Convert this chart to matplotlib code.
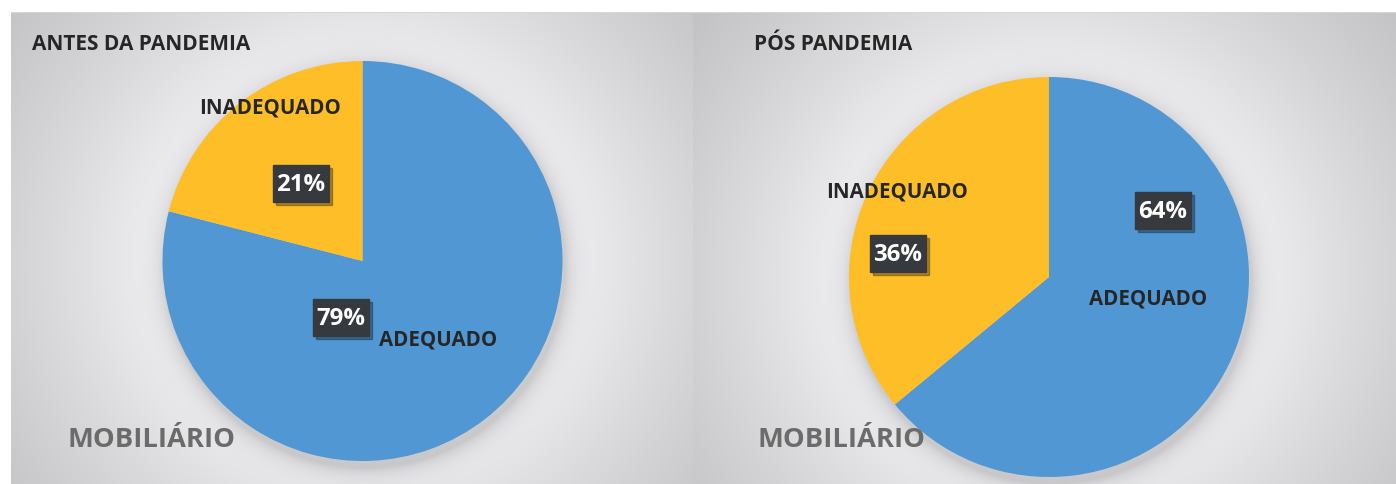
import numpy as np
import matplotlib
matplotlib.use("Agg")
import matplotlib.pyplot as plt
from matplotlib.patches import Rectangle

# data
categories = ['ADEQUADO', 'INADEQUADO']
antes = [79, 21]
pos = [64, 36]
titles = ['ANTES DA PANDEMIA', 'PÓS PANDEMIA']
colors = ['#5097d3', '#fdbe27']

W, H = 1396, 485
fig = plt.figure(figsize=(W / 100, H / 100), dpi=100)

# background: two panels with radial gradient and pie shadow
yy, xx = np.mgrid[0:H, 0:W].astype(float)
img = np.ones((H, W))
panels = [(11, 693, 362.5, 262), (693, W, 1049, 278)]
R = 200
for x0, x1, cx, cy in panels:
    m = (xx >= x0) & (xx < x1) & (yy >= 13)
    d = np.hypot(xx - cx, (yy - cy) * 1.05)
    t = np.clip((d - 200) / 290, 0, 1)
    val = 0.955 - 0.215 * t ** 0.8
    ds = np.hypot(xx - cx - 2, yy - cy - 6)
    sh = np.where(ds > R, np.exp(-(ds - R) / 10.0), 1.0)
    val = val - 0.15 * sh
    img[m] = val[m]
img[13, 11:] = 0.84

bg = fig.add_axes([0, 0, 1, 1])
bg.imshow(np.dstack([img, img, img * 1.01]).clip(0, 1), extent=(0, W, H, 0), aspect='auto')
bg.set_xlim(0, W)
bg.set_ylim(H, 0)
bg.axis('off')

for (x0, x1, cx, cy), vals in zip(panels, [antes, pos]):
    ax = fig.add_axes([(cx - R) / W, (H - cy - R) / H, 2 * R / W, 2 * R / H])
    ax.pie(vals, colors=colors, startangle=90, counterclock=False, radius=1,
           wedgeprops=dict(linewidth=0))
    ax.set_xlim(-1, 1)
    ax.set_ylim(-1, 1)
    ax.axis('off')

ov = fig.add_axes([0, 0, 1, 1])
ov.set_xlim(0, W)
ov.set_ylim(H, 0)
ov.axis('off')

font = 'Open Sans'
txt = '#262626'
ov.text(32, 44, titles[0], fontsize=15, fontweight='bold', color=txt, family=font, va='center')
ov.text(754, 44, titles[1], fontsize=15, fontweight='bold', color=txt, family=font, va='center')
for x in [68, 758]:
    ov.text(x, 440, 'MOBILIÁRIO', fontsize=19.7, fontweight='bold', color='#6b6b6b',
            family=font, va='center')

# category labels
cat_pos = [[(438, 340), (270, 108)], [(1148, 299), (897, 192)]]
pct_pos = [[(341, 318), (301, 184)], [(1163, 211), (898, 254)]]
for k, vals in enumerate([antes, pos]):
    for j, v in enumerate(vals):
        x, y = cat_pos[k][j]
        ov.text(x, y, categories[j], fontsize=14.8, fontweight='bold', color=txt,
                family=font, ha='center', va='center')
        px, py = pct_pos[k][j]
        ov.add_patch(Rectangle((px - 28 + 3, py - 18 + 3), 56, 37, color='#000000',
                               alpha=0.3, zorder=2))
        ov.add_patch(Rectangle((px - 28, py - 18), 56, 37, color='#36393d', zorder=3))
        ov.text(px, py + 1, f'{v}%', fontsize=17.3, fontweight='bold', color='white',
                family=font, ha='center', va='center', zorder=4)

fig.savefig('out.png', dpi=100)
